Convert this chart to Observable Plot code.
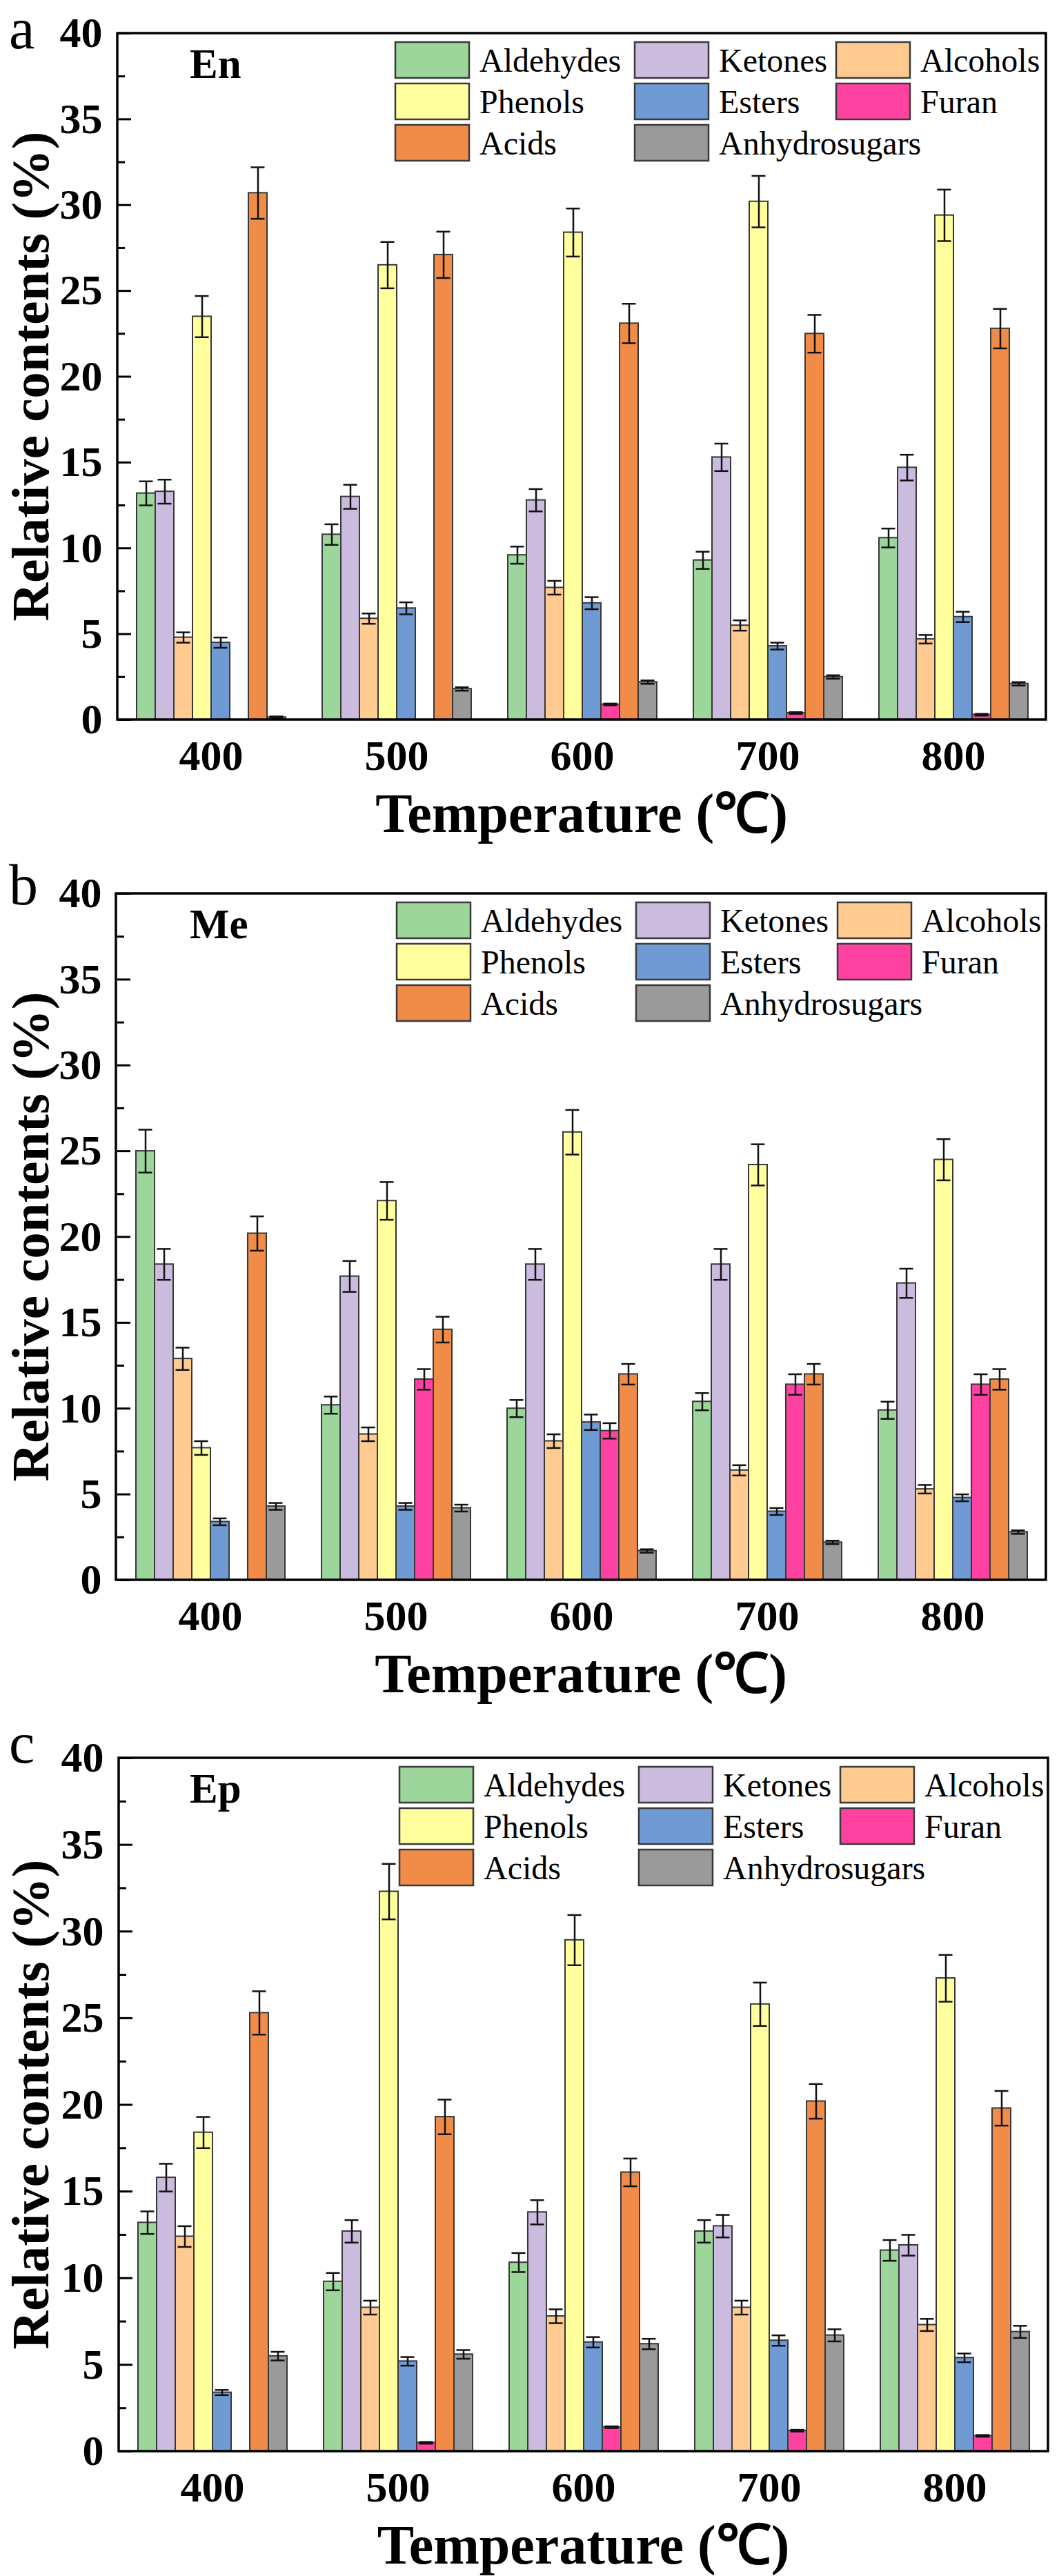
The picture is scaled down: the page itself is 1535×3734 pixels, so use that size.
<!DOCTYPE html>
<html><head><meta charset="utf-8">
<script src="https://cdn.jsdelivr.net/npm/d3@7"></script>
<script src="https://cdn.jsdelivr.net/npm/@observablehq/plot@0.6"></script>
<style>
body{margin:0;background:#fff;}
.panel{position:relative;width:1535px;overflow:visible;}
.panel svg{position:absolute;left:0;top:0;overflow:visible;}
</style></head><body><div id="root"></div>
<script>
// ---------- data ----------
const temps = [400, 500, 600, 700, 800];
const categories = ["Aldehydes", "Ketones", "Alcohols", "Phenols", "Esters", "Furan", "Acids", "Anhydrosugars"];
const colors = ["#9cd69b", "#cbbbdf", "#ffcb91", "#ffff9e", "#709ad4", "#ff42a1", "#f08c48", "#9a9a9a"];
const legendColumns = [["Aldehydes", "Phenols", "Acids"], ["Ketones", "Esters", "Anhydrosugars"], ["Alcohols", "Furan"]];
const majorTicks = [0, 5, 10, 15, 20, 25, 30, 35, 40];
const minorTicks = [2.5, 7.5, 12.5, 17.5, 22.5, 27.5, 32.5, 37.5];

// rows: temperature; columns: categories (same order as above)
const enMeans = [
  [13.2, 13.3, 4.8, 23.5, 4.5, 0, 30.7, 0.15],
  [10.8, 13.0, 5.9, 26.5, 6.5, 0, 27.1, 1.8],
  [9.6, 12.8, 7.7, 28.4, 6.8, 0.9, 23.1, 2.2],
  [9.3, 15.3, 5.5, 30.2, 4.3, 0.4, 22.5, 2.5],
  [10.6, 14.7, 4.7, 29.4, 6.0, 0.3, 22.8, 2.1]
];
const enErrors = [
  [0.7, 0.7, 0.3, 1.2, 0.3, 0, 1.5, 0.05],
  [0.6, 0.7, 0.3, 1.35, 0.35, 0, 1.35, 0.1],
  [0.5, 0.65, 0.4, 1.4, 0.35, 0.05, 1.15, 0.1],
  [0.5, 0.8, 0.3, 1.5, 0.2, 0.05, 1.1, 0.1],
  [0.55, 0.75, 0.25, 1.5, 0.3, 0.05, 1.15, 0.1]
];
const meMeans = [
  [25.0, 18.4, 12.9, 7.7, 3.4, 0, 20.2, 4.3],
  [10.2, 17.7, 8.5, 22.1, 4.3, 11.7, 14.6, 4.2],
  [10.0, 18.4, 8.1, 26.1, 9.2, 8.7, 12.0, 1.7],
  [10.4, 18.4, 6.4, 24.2, 4.0, 11.4, 12.0, 2.2],
  [9.9, 17.3, 5.3, 24.5, 4.8, 11.4, 11.7, 2.8]
];
const meErrors = [
  [1.25, 0.9, 0.65, 0.4, 0.2, 0, 1.0, 0.2],
  [0.5, 0.9, 0.4, 1.1, 0.2, 0.6, 0.75, 0.2],
  [0.5, 0.9, 0.4, 1.3, 0.45, 0.45, 0.6, 0.1],
  [0.5, 0.9, 0.3, 1.2, 0.2, 0.6, 0.6, 0.1],
  [0.5, 0.85, 0.25, 1.2, 0.2, 0.6, 0.6, 0.1]
];
const epMeans = [
  [13.2, 15.8, 12.4, 18.4, 3.4, 0, 25.3, 5.5],
  [9.8, 12.7, 8.3, 32.3, 5.2, 0.5, 19.3, 5.6],
  [10.9, 13.8, 7.8, 29.5, 6.3, 1.4, 16.1, 6.2],
  [12.7, 13.0, 8.3, 25.8, 6.4, 1.2, 20.2, 6.7],
  [11.6, 11.9, 7.3, 27.3, 5.4, 0.9, 19.8, 6.9]
];
const epErrors = [
  [0.65, 0.8, 0.6, 0.9, 0.15, 0, 1.25, 0.25],
  [0.5, 0.65, 0.4, 1.6, 0.25, 0.05, 1.0, 0.25],
  [0.55, 0.7, 0.4, 1.45, 0.3, 0.05, 0.8, 0.3],
  [0.65, 0.65, 0.4, 1.25, 0.3, 0.05, 1.0, 0.35],
  [0.6, 0.6, 0.35, 1.35, 0.25, 0.05, 1.0, 0.35]
];

const panelLetters = ["a", "b", "c"];
const panelNames = ["En", "Me", "Ep"];
const yLabel = "Relative contents (%)";
const xLabel = "Temperature (℃)";

// ---------- layout (not data) ----------
const layouts = [
  {height: 1247, l: 170, r: 1516, t: 48, b: 1043, letterY: 70, legendDx: 0},
  {height: 1247, l: 168, r: 1516, t: 48, b: 1043, letterY: 64, legendDx: 2},
  {height: 1240, l: 172, r: 1519, t: 54, b: 1059, letterY: 61, legendDx: 6}
];
const serif = "'Liberation Serif', 'Times New Roman', serif";
const means = [enMeans, meMeans, epMeans];
const errors = [enErrors, meErrors, epErrors];

const root = document.getElementById("root");

layouts.forEach((L, p) => {
  const rows = [];
  temps.forEach((t, i) => categories.forEach((c, j) => {
    rows.push({temp: t, cat: c, v: means[p][i][j], e: errors[p][i][j]});
  }));
  const bars = rows.filter(d => d.v > 0);
  const errs = rows.filter(d => d.v > 0 && d.e > 0);

  const div = document.createElement("div");
  div.className = "panel";
  div.style.height = L.height + "px";
  root.appendChild(div);

  const chart = Plot.plot({
    width: 1535,
    height: L.height,
    marginLeft: L.l,
    marginRight: 1535 - L.r,
    marginTop: L.t,
    marginBottom: L.height - L.b,
    style: {fontFamily: serif, background: "transparent", color: "#000"},
    fx: {domain: temps, paddingInner: 0, paddingOuter: 0, label: null},
    x: {domain: categories, paddingInner: 0, paddingOuter: 0.93, axis: null},
    y: {domain: [0, 40]},
    color: {domain: categories, range: colors},
    marks: [
      Plot.barY(bars, {fx: "temp", x: "cat", y: "v", fill: "cat", stroke: "#383838", strokeWidth: 2}),
      Plot.ruleX(errs, {fx: "temp", x: "cat", y1: d => d.v - d.e, y2: d => d.v + d.e, stroke: "#111", strokeWidth: 2.5}),
      Plot.tickY(errs, {fx: "temp", x: "cat", y: d => d.v + d.e, stroke: "#111", strokeWidth: 2.5, insetLeft: 3.5, insetRight: 3.5}),
      Plot.tickY(errs, {fx: "temp", x: "cat", y: d => d.v - d.e, stroke: "#111", strokeWidth: 2.5, insetLeft: 3.5, insetRight: 3.5}),
      Plot.axisY({ticks: majorTicks, tickSize: -19, tickPadding: 42, fontSize: 62, fontWeight: "bold", strokeWidth: 3, label: null}),
      Plot.axisY({ticks: minorTicks, tickSize: -10, tickPadding: 0, strokeWidth: 3, tickFormat: () => "", label: null}),
      Plot.axisFx({anchor: "bottom", tickSize: 0, tickPadding: 28, fontSize: 62, fontWeight: "bold", label: null})
    ]
  });
  div.appendChild(chart);

  // overlay: frame, panel letter, name, legend, axis titles
  const svg = d3.select(div).append("svg")
    .attr("width", 1535).attr("height", L.height)
    .attr("font-family", serif)
    .style("pointer-events", "none");

  svg.append("rect")
    .attr("x", L.l).attr("y", L.t).attr("width", L.r - L.l).attr("height", L.b - L.t)
    .attr("fill", "none").attr("stroke", "#000").attr("stroke-width", 3.5);

  svg.append("text").attr("x", 13).attr("y", L.letterY)
    .attr("font-size", 84).text(panelLetters[p]);

  svg.append("text").attr("x", 275).attr("y", L.t + 65)
    .attr("font-size", 61).attr("font-weight", "bold").text(panelNames[p]);

  const colX = [573, 920, 1212];
  legendColumns.forEach((col, ci) => col.forEach((name, ri) => {
    const x = colX[ci] + L.legendDx;
    const y = L.t + 13 + ri * 60;
    svg.append("rect").attr("x", x).attr("y", y).attr("width", 107).attr("height", 52)
      .attr("fill", colors[categories.indexOf(name)]).attr("stroke", "#3a3a3a").attr("stroke-width", 2.5);
    svg.append("text").attr("x", x + 122).attr("y", y + 43)
      .attr("font-size", 48).text(name);
  }));

  svg.append("text")
    .attr("transform", `translate(70,${(L.t + L.b) / 2}) rotate(-90)`)
    .attr("text-anchor", "middle").attr("font-size", 77).attr("font-weight", "bold")
    .text(yLabel);

  svg.append("text")
    .attr("x", (L.l + L.r) / 2).attr("y", L.b + 163)
    .attr("text-anchor", "middle").attr("font-size", 80).attr("font-weight", "bold")
    .text(xLabel);
});
</script></body></html>
